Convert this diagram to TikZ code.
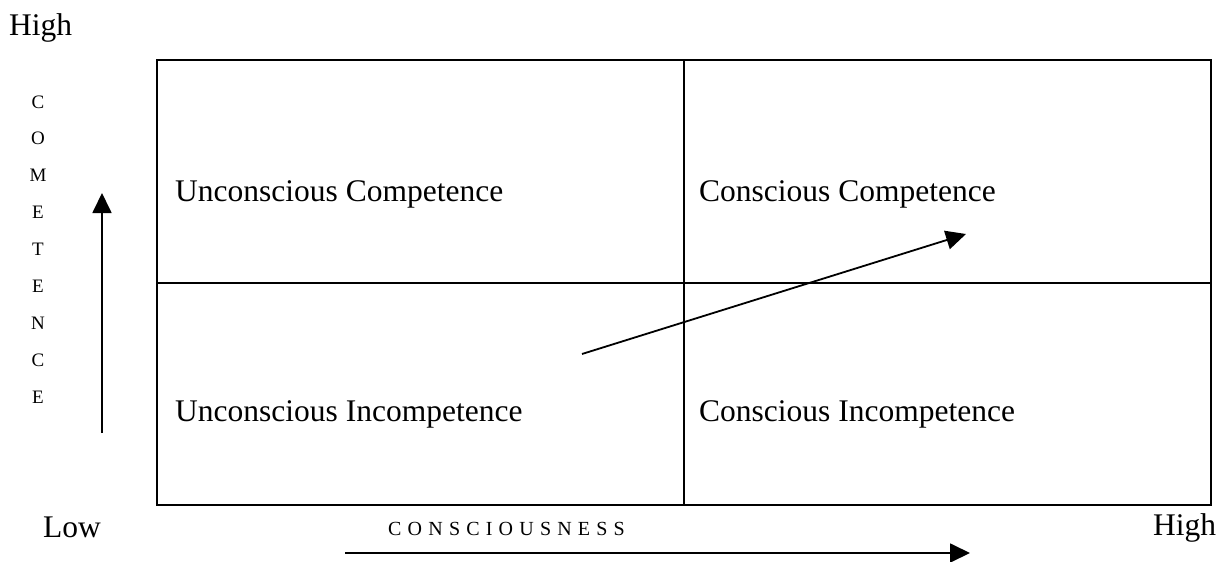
\documentclass[tikz,border=0pt]{standalone}
\usepackage{fontspec}
\setmainfont{Liberation Serif}
\newfontfamily\trackfont[LetterSpace=31]{Liberation Serif}
\usetikzlibrary{arrows.meta,positioning}

\begin{document}
\begin{tikzpicture}[x=1pt,y=-1pt,
    lbl/.style={anchor=base west,inner sep=0pt,font=\fontsize{31.5}{37}\selectfont},
    ltr/.style={anchor=base,inner sep=0pt,font=\fontsize{19}{22}\selectfont},
    ln/.style={line width=1.8pt},
    ar/.style={-{Triangle[length=20pt,width=19pt]},line width=1.8pt}]
    \useasboundingbox (0,0) rectangle (1227,562);
    % grid
    \coordinate (nw) at (157,60);\coordinate (se) at (1211,505);
    \coordinate (mt) at (684,60);\coordinate (mb) at (684,505);
    \coordinate (ml) at (157,283);\coordinate (mr) at (1211,283);
    \draw[ln](nw)rectangle(se);
    \draw[ln](mt)--(mb);\draw[ln](ml)--(mr);
    % quadrants
    \node[lbl](uc) at (175,201){Unconscious Competence};
    \node[lbl](cc) at (699,201){Conscious Competence};
    \node[lbl](ui) at (175,421){Unconscious Incompetence};
    \node[lbl](ci) at (699,421){Conscious Incompetence};
    % axes
    \node[lbl](hi) at (9,35){High};
    \node[lbl](lo) at (43,537){Low};
    \node[lbl](hx) at (1153,535){High};
    \foreach \c [count=\i] in {C,O,M,E,T,E,N,C,E}
      \node[ltr](v\i) at (38,{108+36.9*(\i-1)}){\c};
    \node[anchor=base west,inner sep=0pt,font=\fontsize{20}{24}\trackfont](cs) at (388,535){CONSCIOUSNESS};
    \coordinate (y0) at (102,433);\coordinate (y1) at (102,193);
    \coordinate (x0) at (345,553);\coordinate (x1) at (970,553);
    \coordinate (p0) at (582,354);\coordinate (p1) at (966,234);
    \draw[ar](y0)--(y1);\draw[ar](x0)--(x1);\draw[ar](p0)--(p1);
\end{tikzpicture}
\end{document}
